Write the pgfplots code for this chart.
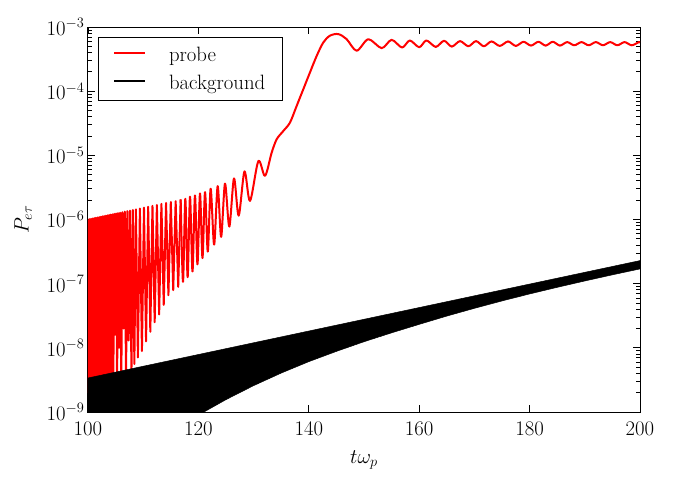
\documentclass[border=0pt]{standalone}
\usepackage{pgfplots}
\pgfplotsset{compat=1.18}
\begin{document}
\begin{tikzpicture}
\useasboundingbox (-88pt,-70pt) rectangle (586pt,412pt);
\begin{axis}[
  at={(0pt,0pt)}, anchor=south west,
  scale only axis, width=552pt, height=385pt,
  xmin=100, xmax=200, ymin=1e-9, ymax=1e-3, ymode=log,
  xtick={100,120,140,160,180,200},
  ytick={1e-9,1e-8,1e-7,1e-6,1e-5,1e-4,1e-3},
  tick label style={font=\huge},
  xticklabel style={yshift=-7pt},
  label style={font=\huge},
  xlabel={$t\omega_p$}, ylabel={$P_{e\tau}$},
  xlabel style={yshift=-8pt},
  ylabel style={yshift=8pt},
  major tick length=7pt, minor tick length=4pt,
  axis line style={line width=1pt},
  tick style={line width=0.8pt, black},
  legend style={at={(0.018,0.974)}, anchor=north west, font=\huge,
    draw=black, line width=1pt, inner xsep=15pt, inner ysep=7.5pt,
    row sep=8pt, /tikz/every odd column/.append style={column sep=21pt}},
  legend cell align=left,
  legend image code/.code={\draw[#1, line cap=butt] (0pt,2pt) -- (31pt,2pt);},
]
\addlegendimage{red, line width=1.6pt}
\addlegendentry{probe}
\addlegendimage{black, line width=1.6pt}
\addlegendentry{background}

% probe, fast oscillating part
\addplot[forget plot, red, line width=2pt, line join=round] coordinates {
(100.00,1.000e-6) (100.12,2.0e-9) (100.23,1.010e-6) (100.38,2.0e-9)
(100.53,1.022e-6) (100.68,2.0e-9) (100.83,1.035e-6) (100.98,2.0e-9)
(101.13,1.049e-6) (101.28,2.0e-9) (101.43,1.062e-6) (101.58,2.0e-9)
(101.73,1.075e-6) (101.88,2.0e-9) (102.03,1.089e-6) (102.18,2.0e-9)
(102.33,1.103e-6) (102.48,2.0e-9) (102.63,1.117e-6) (102.78,2.0e-9)
(102.93,1.131e-6) (103.08,2.0e-9) (103.23,1.145e-6) (103.38,2.0e-9)
(103.53,1.159e-6) (103.68,2.0e-9) (103.83,1.174e-6) (103.98,2.0e-9)
(104.13,1.189e-6) (104.28,2.0e-9) (104.43,1.204e-6) (104.59,2.51e-9)
(104.75,1.220e-6) (104.92,1.6e-8) (105.09,1.238e-6) (105.27,2.51e-9)
(105.45,1.256e-6) (105.64,1.0e-8) (105.83,1.277e-6) (106.03,2.2e-9)
(106.23,1.298e-6) (106.45,2.0e-8) (106.66,1.322e-6) (106.89,3.0e-9)
(107.12,1.348e-6) (107.37,1.3e-8) (107.61,1.376e-6) (107.87,4.0e-9)
(108.13,1.406e-6) (108.40,5.6e-9)
(108.68,1.439e-6) (109.04,7.08e-9) (109.40,1.483e-6) (109.77,8.91e-9)
(110.14,1.531e-6) (110.52,1.26e-8) (110.90,1.578e-6) (111.29,1.78e-8)
(111.68,1.633e-6) (112.08,2.51e-8) (112.48,1.687e-6) (112.89,3.31e-8)
(113.30,1.750e-6) (113.72,4.68e-8) (114.14,1.811e-6) (114.57,6.61e-8)
(115.00,1.875e-6) (115.44,7.94e-8) (115.88,1.932e-6) (116.34,8.91e-8)
(116.79,2.051e-6)
};
% probe, slower part
\addplot[forget plot, red, line width=2pt, line join=round, smooth] coordinates {
(116.79,2.051e-6) (117.21,1.07e-7) (117.63,2.104e-6) (118.05,1.26e-7)
(118.48,2.265e-6) (118.93,1.55e-7) (119.38,2.371e-6) (119.83,2.0e-7)
(120.29,2.547e-6) (120.74,2.51e-7) (121.20,2.673e-6) (121.70,3.16e-7)
(122.22,3.020e-6) (122.85,4.07e-7) (123.49,3.311e-6) (124.12,5.37e-7)
(124.82,3.631e-6) (125.60,7.76e-7) (126.45,4.365e-6) (127.30,1.148e-6)
(128.35,5.623e-6) (129.35,1.95e-6) (130.86,8.128e-6) (132.07,4.79e-6)
(133.27,1.10e-5) (134.18,1.78e-5) (135.39,2.40e-5) (136.59,3.24e-5)
(137.80,5.89e-5) (139.00,1.07e-4) (140.20,1.95e-4) (141.43,3.55e-4)
(142.63,5.75e-4) (143.84,7.33e-4) (145.35,7.76e-4) (146.86,6.46e-4)
(148.67,4.27e-4) (150.78,6.46e-4) (153.20,4.68e-4) (155.00,6.31e-4)
(156.90,4.79e-4) (158.30,6.17e-4) (160.00,4.84e-4) (161.30,6.17e-4)
(163.00,4.90e-4) (164.50,6.10e-4) (165.90,4.95e-4) (167.40,6.03e-4)
(168.90,5.01e-4) (170.30,6.03e-4) (171.70,5.01e-4) (173.10,5.96e-4)
(174.60,5.07e-4) (176.10,5.96e-4) (177.50,5.07e-4) (178.90,5.89e-4)
(180.25,5.13e-4) (181.60,5.89e-4) (182.90,5.13e-4) (184.20,5.89e-4)
(185.50,5.13e-4) (186.80,5.82e-4) (188.10,5.19e-4) (189.40,5.82e-4)
(190.70,5.19e-4) (192.00,5.82e-4) (193.30,5.19e-4) (194.60,5.82e-4)
(195.90,5.19e-4) (197.20,5.82e-4) (198.50,5.19e-4) (199.80,5.82e-4)
(200.00,5.75e-4)
};
% background band (upper envelope, then lower envelope backwards)
\addplot[forget plot, draw=black, fill=black, line width=0.5pt] coordinates {
(100,3.39e-9) (200,2.29e-7)
(200,1.698e-7) (195,1.374e-7) (190,1.102e-7) (185,8.770e-8) (180,6.918e-8)
(175,5.383e-8) (170,4.130e-8) (165,3.126e-8) (160,2.323e-8) (155,1.714e-8)
(150,1.245e-8) (145,8.810e-9) (140,6.095e-9) (135,4.046e-9) (130,2.576e-9)
(125,1.560e-9) (121,1.0e-9) (118,6.9e-10) (115,4.7e-10) (110,2.2e-10)
(100,4.0e-11)
};
\end{axis}
\end{tikzpicture}
\end{document}
